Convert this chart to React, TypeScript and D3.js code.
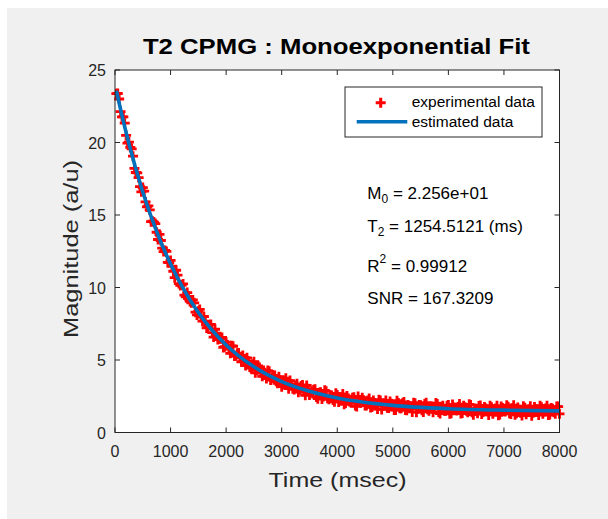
import React from 'react';
import * as d3 from 'd3';

// ---------- data ----------
const echoSpacing = 25; // ms between echoes
const experimentalValues = [
  23.37, 23.38, 23.0, 22.13, 21.77, 21.77, 21.33, 20.49, 19.96, 20.03,
  19.67, 19.56, 19.06, 18.22, 17.93, 17.9, 17.58, 16.96, 16.6, 16.89,
  16.64, 15.9, 15.56, 15.63, 15.36, 14.54, 14.57, 14.51, 14.41, 13.81,
  13.31, 13.67, 13.24, 12.71, 12.48, 12.56, 12.49, 11.73, 11.72, 11.87,
  11.47, 11.12, 10.68, 11.19, 10.85, 10.27, 10.14, 10.17, 10.25, 9.48,
  9.36, 9.65, 9.39, 9.04, 8.94, 9.14, 8.94, 8.3, 8.11, 8.37,
  8.49, 7.96, 7.68, 8.0, 7.68, 7.21, 7.29, 7.42, 7.45, 6.89,
  6.58, 7.12, 6.86, 6.41, 6.46, 6.46, 6.56, 5.87, 5.92, 6.23,
  6.04, 5.75, 5.46, 5.98, 5.95, 5.27, 5.29, 5.46, 5.48, 5.15,
  4.88, 5.31, 5.04, 4.62, 5.15, 4.93, 4.51, 4.45, 4.69, 4.88,
  4.12, 4.31, 4.6, 4.49, 4.13, 3.88, 4.27, 4.12, 3.72, 4.27,
  4.22, 3.62, 3.77, 3.88, 3.93, 3.54, 3.39, 3.85, 3.6, 3.16,
  3.32, 3.58, 3.74, 3.31, 3.02, 3.58, 3.34, 3.01, 2.97, 3.24,
  3.36, 2.78, 2.94, 3.21, 3.28, 2.85, 2.57, 3.24, 3.01, 2.59,
  2.76, 2.83, 2.95, 2.98, 2.45, 2.33, 2.75, 2.78, 2.31, 2.49,
  2.91, 2.84, 2.37, 2.3, 2.53, 2.56, 2.24, 2.12, 2.7, 2.58,
  2.11, 2.29, 2.42, 2.66, 1.94, 2.03, 2.51, 2.34, 2.12, 2.06,
  2.39, 2.43, 1.86, 1.8, 2.49, 2.18, 2.06, 2.4, 2.23, 1.87,
  1.86, 2.2, 2.34, 1.73, 1.76, 2.2, 2.04, 1.88, 1.62, 2.26,
  2.2, 1.59, 1.83, 2.02, 2.21, 1.7, 1.69, 2.14, 1.98, 1.82,
  1.56, 1.55, 2.19, 2.04, 1.68, 1.67, 2.01, 2.11, 1.55, 1.54,
  1.89, 1.83, 1.72, 1.42, 2.06, 2.01, 1.4, 1.64, 1.89, 1.88,
  1.53, 1.42, 1.97, 2.06, 1.61, 1.5, 1.75, 1.79, 1.39, 1.63,
  2.03, 1.97, 1.42, 1.31, 1.76, 1.85, 1.5, 1.5, 1.84, 1.89,
  1.29, 1.33, 1.93, 1.72, 1.57, 1.52, 1.76, 1.96, 1.31, 1.35,
  1.85, 1.75, 1.5, 1.39, 1.94, 1.89, 1.39, 1.23, 1.63, 1.63,
  1.33, 1.82, 1.87, 1.27, 1.42, 1.76, 1.66, 1.46, 1.21, 1.85,
  1.75, 1.3, 1.5, 1.65, 1.85, 1.19, 1.24, 1.79, 1.69, 1.49,
  1.44, 1.88, 1.78, 1.33, 1.28, 1.68, 1.88, 1.22, 1.32, 1.72,
  1.57, 1.37, 1.17, 1.81, 1.71, 1.26, 1.41, 1.61, 1.81, 1.16,
  1.36, 1.76, 1.61, 1.45, 1.2, 1.85, 1.75, 1.3, 1.45, 1.65,
  1.85, 1.2, 1.24, 1.69, 1.64, 1.39, 1.29, 1.79, 1.79, 1.29,
];
const fitTimes = [25, 125, 250, 500, 750, 1000, 1250, 1500, 1750, 2000, 2500, 3000, 3500, 4000, 5000, 6000, 7000, 8000];
const fitValues = [23.57, 21.87, 19.93, 16.59, 13.86, 11.62, 9.78, 8.27, 7.04, 6.03, 4.53, 3.51, 2.84, 2.38, 1.87, 1.64, 1.54, 1.49];
const xTicks = [0, 1000, 2000, 3000, 4000, 5000, 6000, 7000, 8000];
const yTicks = [0, 5, 10, 15, 20, 25];
const legendLabels = ['experimental data', 'estimated data'];
const titleText = 'T2 CPMG : Monoexponential Fit';
const xLabel = 'Time (msec)';
const yLabel = 'Magnitude (a/u)';

// ---------- layout ----------
const W = 608;
const H = 519;
const plot = { left: 115, right: 559.5, top: 70, bottom: 432.5 };
const axisColor = '#262626';
const font = 'Arial, "Liberation Sans", Helvetica, sans-serif';

export default function App() {
  const x = d3.scaleLinear().domain([0, 8000]).range([plot.left, plot.right]);
  const y = d3.scaleLinear().domain([0, 25]).range([plot.bottom, plot.top]);

  const pts = experimentalValues.map((v, i) => ({ t: (i + 1) * echoSpacing, v }));
  const fitPts = fitTimes.map((t, i) => ({ t, v: fitValues[i] }));
  const line = d3
    .line<{ t: number; v: number }>()
    .x((d) => x(d.t))
    .y((d) => y(d.v))
    .curve(d3.curveMonotoneX);

  const m = 5; // marker half size
  const plusPath = `M${-m},0H${m}M0,${-m}V${m}`;
  const tick = 5;

  return (
    <svg
      width={W}
      height={H}
      style={{ position: 'absolute', left: 0, top: 0, background: '#ffffff' }}
      fontFamily={font}
    >
      <rect x={7} y={8} width={W - 7} height={H - 8} fill="#f0f0f0" />
      <rect
        x={plot.left}
        y={plot.top}
        width={plot.right - plot.left}
        height={plot.bottom - plot.top}
        fill="#ffffff"
      />

      {/* data markers */}
      <g stroke="#ff0000" strokeWidth={2.8} fill="none">
        {pts.map((d, i) => (
          <path key={i} d={plusPath} transform={`translate(${x(d.t)},${y(d.v)})`} />
        ))}
      </g>
      {/* fitted line */}
      <path d={line(fitPts) || ''} fill="none" stroke="#0072bd" strokeWidth={3.6} />

      {/* axes box and ticks */}
      <g stroke={axisColor} strokeWidth={1} fill="none">
        <rect
          x={plot.left}
          y={plot.top}
          width={plot.right - plot.left}
          height={plot.bottom - plot.top}
        />
        {xTicks.map((t) => (
          <g key={'xt' + t}>
            <line x1={x(t)} x2={x(t)} y1={plot.bottom} y2={plot.bottom - tick} />
            <line x1={x(t)} x2={x(t)} y1={plot.top} y2={plot.top + tick} />
          </g>
        ))}
        {yTicks.map((t) => (
          <g key={'yt' + t}>
            <line x1={plot.left} x2={plot.left + tick} y1={y(t)} y2={y(t)} />
            <line x1={plot.right} x2={plot.right - tick} y1={y(t)} y2={y(t)} />
          </g>
        ))}
      </g>
      <g fill={axisColor} fontSize={16}>
        {xTicks.map((t) => (
          <text key={'xl' + t} x={x(t)} y={457} textAnchor="middle">
            {t}
          </text>
        ))}
        {yTicks.map((t) => (
          <text key={'yl' + t} x={plot.left - 9} y={y(t) + 6} textAnchor="end">
            {t}
          </text>
        ))}
      </g>

      {/* labels */}
      <text
        x={336.4}
        y={54.3}
        textAnchor="middle"
        fontSize={22.5}
        fontWeight="bold"
        fill="#000000"
        textLength={387}
        lengthAdjust="spacingAndGlyphs"
      >
        {titleText}
      </text>
      <text
        x={337.5}
        y={487}
        textAnchor="middle"
        fontSize={21}
        fill={axisColor}
        textLength={138}
        lengthAdjust="spacingAndGlyphs"
      >
        {xLabel}
      </text>
      <text
        transform="translate(77.5,249) rotate(-90)"
        textAnchor="middle"
        fontSize={21}
        fill={axisColor}
        textLength={178}
        lengthAdjust="spacingAndGlyphs"
      >
        {yLabel}
      </text>

      {/* legend */}
      <rect x={345} y={87} width={197} height={50} fill="#ffffff" stroke={axisColor} strokeWidth={1} />
      <path
        d={`M-5,0H5M0,-5V5`}
        transform="translate(380.7,102.7)"
        stroke="#ff0000"
        strokeWidth={3}
        fill="none"
      />
      <line x1={356.7} x2={407.3} y1={121.7} y2={121.7} stroke="#0072bd" strokeWidth={3.6} />
      <g fontSize={15.5} fill="#000000">
        <text x={411.7} y={107}>{legendLabels[0]}</text>
        <text x={411.7} y={127.3}>{legendLabels[1]}</text>
      </g>

      {/* fit parameters */}
      <g fontSize={17} fill="#000000">
        <text x={367.3} y={199}>
          M<tspan dy={4} fontSize={12}>0</tspan>
          <tspan dy={-4}> = 2.256e+01</tspan>
        </text>
        <text x={367.3} y={231.7}>
          T<tspan dy={4} fontSize={12}>2</tspan>
          <tspan dy={-4}> = 1254.5121 (ms)</tspan>
        </text>
        <text x={367.3} y={271.7}>
          R<tspan dy={-9} fontSize={12}>2</tspan>
          <tspan dy={9}> = 0.99912</tspan>
        </text>
        <text x={367.3} y={304}>SNR = 167.3209</text>
      </g>
    </svg>
  );
}
